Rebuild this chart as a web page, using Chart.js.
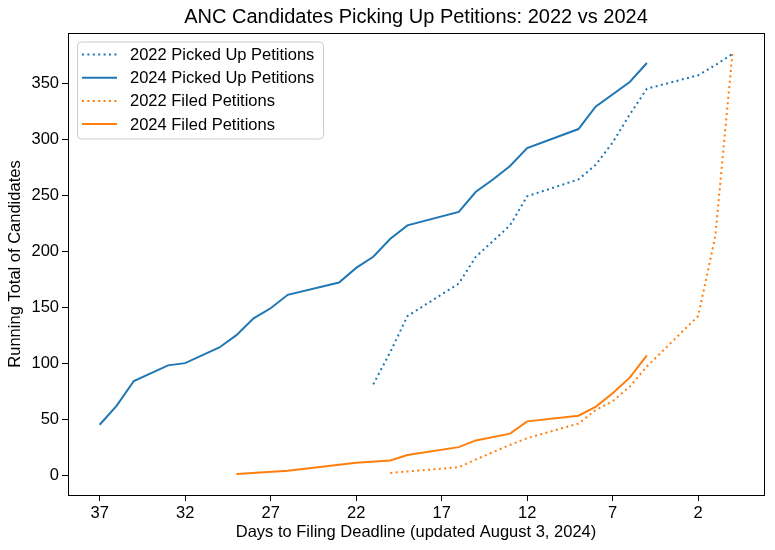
<!DOCTYPE html>
<html>
<head>
<meta charset="utf-8">
<script src="https://cdn.jsdelivr.net/npm/chart.js@4.4.1/dist/chart.umd.min.js"></script>
<style>
  html, body { margin: 0; padding: 0; background: #fff; }
  #wrap { width: 775px; height: 550px; }
</style>
</head>
<body>
<div id="wrap"><canvas id="chart" width="775" height="550"></canvas></div>
<script>
// Text
const titleText = 'ANC Candidates Picking Up Petitions: 2022 vs 2024';
const xTitle = 'Days to Filing Deadline (updated August 3, 2024)';
const yTitle = 'Running Total of Candidates';

// Tick labels
const xTicks = [37, 32, 27, 22, 17, 12, 7, 2];
const yTicks = [0, 50, 100, 150, 200, 250, 300, 350];

// 2022 picked up petitions (days to deadline / running total)
const days2022Picked = [21, 20, 19, 16, 15, 14, 13, 12, 9, 8, 7, 6, 5, 2, 1, 0];
const vals2022Picked = [81, 110, 142, 171, 195, 209, 223, 249, 264, 277, 297, 322, 345, 357, 366, 376];

// 2024 picked up petitions
const days2024Picked = [37, 36, 35, 33, 32, 30, 29, 28, 27, 26, 23, 22, 21, 20, 19, 16, 15, 14, 13, 12, 9, 8, 6, 5];
const vals2024Picked = [45, 62, 84, 98, 100, 114, 125, 140, 149, 161, 172, 185, 195, 211, 223, 235, 253, 264, 276, 292, 309, 329, 351, 368];

// 2022 filed petitions
const days2022Filed = [20, 16, 15, 13, 12, 9, 8, 7, 6, 5, 2, 1, 0];
const vals2022Filed = [2, 7, 14, 27, 33, 46, 58, 66, 79, 97, 142, 213, 376];

// 2024 filed petitions
const days2024Filed = [29, 26, 22, 20, 19, 16, 15, 13, 12, 9, 8, 7, 6, 5];
const vals2024Filed = [1, 4, 11, 13, 18, 25, 31, 37, 48, 53, 61, 73, 87, 107];

const BLUE = '#1f77b4';
const ORANGE = '#ff7f0e';
const FONT = "'Liberation Sans', Arial, Helvetica, sans-serif";
const DOT = [2, 3.4];

function pts(days, vals) {
    return days.map((d, i) => ({ x: d, y: vals[i] }));
}

function series(label, days, vals, color, dash) {
    return {
        label: label,
        data: pts(days, vals),
        borderColor: color,
        backgroundColor: color,
        borderWidth: 2,
        borderDash: dash,
        borderCapStyle: 'butt',
        pointRadius: 0,
        tension: 0,
        fill: false
    };
}

// Title centred over the plot area, like matplotlib
const titlePlugin = {
    id: 'plotTitle',
    afterDraw(chart) {
        const { ctx, chartArea } = chart;
        ctx.save();
        ctx.fillStyle = '#000';
        ctx.font = '20px ' + FONT;
        ctx.textAlign = 'center';
        ctx.textBaseline = 'middle';
        ctx.fillText(titleText, (chartArea.left + chartArea.right) / 2, 17);
        ctx.restore();
    }
};

// Frame on all four sides of the plot area
const framePlugin = {
    id: 'frame',
    afterDatasetsDraw(chart) {
        const { ctx, chartArea: a } = chart;
        ctx.save();
        ctx.strokeStyle = '#000';
        ctx.lineWidth = 1;
        ctx.strokeRect(Math.round(a.left) + 0.5, Math.round(a.top) + 0.5,
            Math.round(a.right - a.left), Math.round(a.bottom - a.top));
        ctx.restore();
    }
};

// Legend box in the upper left corner of the plot
const legendPlugin = {
    id: 'insideLegend',
    afterDatasetsDraw(chart) {
        const { ctx, chartArea: a } = chart;
        const x0 = a.left + 9, y0 = a.top + 8.5;
        const w = 246, h = 97, r = 4;
        ctx.save();
        ctx.beginPath();
        ctx.roundRect(x0 + 0.5, y0 + 0.5, w, h, r);
        ctx.fillStyle = 'rgba(255,255,255,0.8)';
        ctx.fill();
        ctx.strokeStyle = '#cccccc';
        ctx.lineWidth = 1;
        ctx.stroke();

        ctx.font = '16.5px ' + FONT;
        ctx.textBaseline = 'middle';
        chart.data.datasets.forEach((ds, i) => {
            const cy = y0 + 13 + i * 23.2;
            ctx.beginPath();
            ctx.setLineDash(ds.borderDash || []);
            ctx.lineCap = 'butt';
            ctx.strokeStyle = ds.borderColor;
            ctx.lineWidth = 2;
            ctx.moveTo(x0 + 5, cy);
            ctx.lineTo(x0 + 40, cy);
            ctx.stroke();
            ctx.setLineDash([]);
            ctx.fillStyle = '#000';
            ctx.fillText(ds.label, x0 + 53, cy + 1);
        });
        ctx.restore();
    }
};

new Chart(document.getElementById('chart'), {
    type: 'line',
    data: {
        datasets: [
            series('2022 Picked Up Petitions', days2022Picked, vals2022Picked, BLUE, DOT),
            series('2024 Picked Up Petitions', days2024Picked, vals2024Picked, BLUE, []),
            series('2022 Filed Petitions', days2022Filed, vals2022Filed, ORANGE, DOT),
            series('2024 Filed Petitions', days2024Filed, vals2024Filed, ORANGE, [])
        ]
    },
    options: {
        responsive: false,
        animation: false,
        layout: { padding: { top: 33, right: 11, left: 0, bottom: 0 } },
        plugins: {
            legend: { display: false },
            title: { display: false },
            tooltip: { enabled: false }
        },
        scales: {
            x: {
                type: 'linear',
                reverse: true,
                min: -1.85,
                max: 38.85,
                afterBuildTicks(scale) {
                    scale.ticks = xTicks.map(v => ({ value: v }));
                },
                afterFit(scale) { scale.height = 55; },
                grid: { drawOnChartArea: false, drawTicks: true, tickLength: 6, color: '#000', lineWidth: 1 },
                border: { display: true, color: '#000', width: 1 },
                ticks: {
                    color: '#000',
                    padding: 3,
                    maxRotation: 0,
                    autoSkip: false,
                    font: { family: FONT, size: 16.5 },
                    callback: v => String(v)
                },
                title: {
                    display: true,
                    text: xTitle,
                    color: '#000',
                    font: { family: FONT, size: 16.5 },
                    padding: { top: 0, bottom: 8 }
                }
            },
            y: {
                type: 'linear',
                min: -17.75,
                max: 394.75,
                afterBuildTicks(scale) {
                    scale.ticks = yTicks.map(v => ({ value: v }));
                },
                afterFit(scale) { scale.width = 68; },
                grid: { drawOnChartArea: false, drawTicks: true, tickLength: 6, color: '#000', lineWidth: 1 },
                border: { display: true, color: '#000', width: 1 },
                ticks: {
                    color: '#000',
                    padding: 3,
                    autoSkip: false,
                    font: { family: FONT, size: 16.5 },
                    callback: v => String(v)
                },
                title: {
                    display: true,
                    text: yTitle,
                    color: '#000',
                    font: { family: FONT, size: 16.5 },
                    padding: { top: 6, bottom: 0 }
                }
            }
        }
    },
    plugins: [titlePlugin, framePlugin, legendPlugin]
});
</script>
</body>
</html>
